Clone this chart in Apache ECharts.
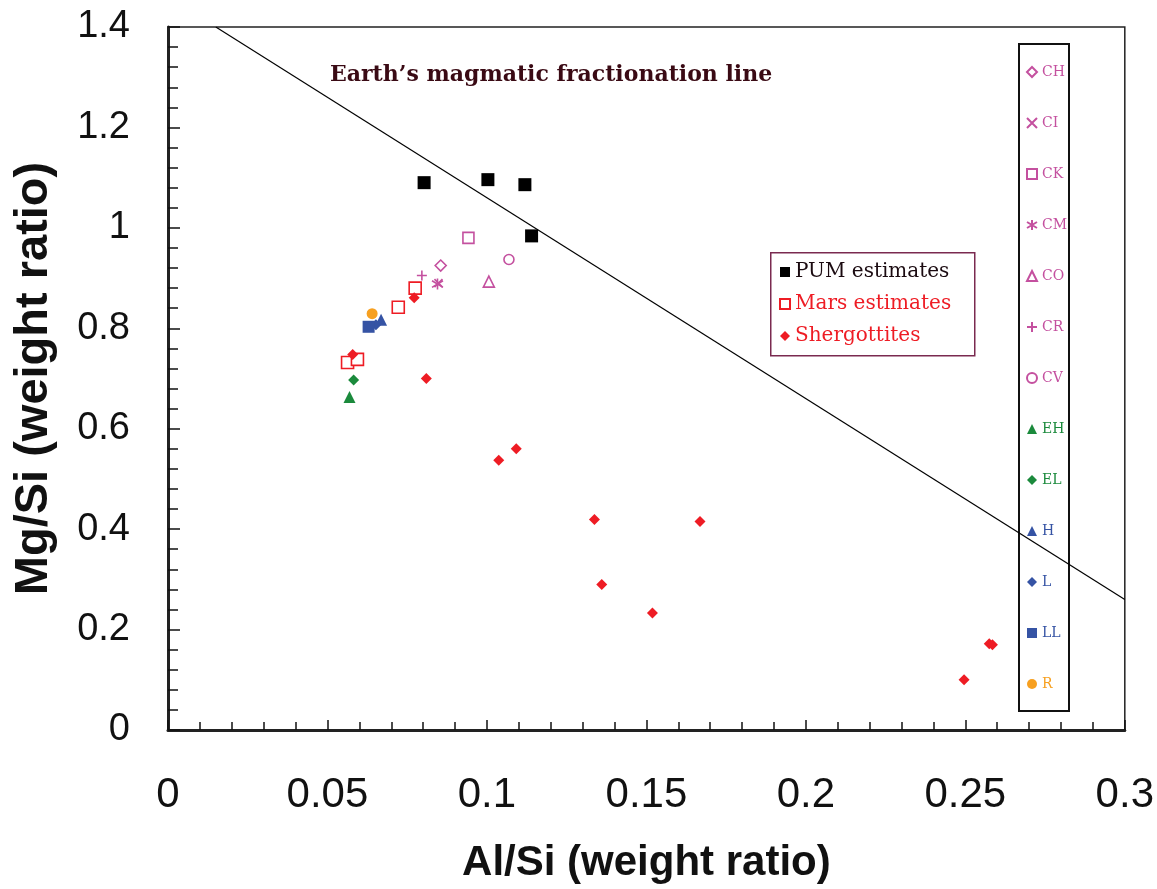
<!DOCTYPE html>
<html>
<head>
<meta charset="utf-8">
<script src="https://cdn.jsdelivr.net/npm/echarts@6/dist/echarts.min.js"></script>
<style>html,body{margin:0;padding:0;background:#fff;}#c{width:1157px;height:889px;}</style>
</head>
<body>
<div id="c"></div>
<script>
// ---- data (Al/Si, Mg/Si weight ratios) ----
var pum = [[0.0803, 1.090], [0.1003, 1.096], [0.1119, 1.086], [0.1140, 0.984]];
var mars = [[0.0563, 0.732], [0.0594, 0.738], [0.0722, 0.842], [0.0775, 0.880]];
var shergottites = [[0.0579, 0.748], [0.0772, 0.861], [0.0810, 0.700], [0.1037, 0.537],
  [0.1092, 0.560], [0.1337, 0.419], [0.1668, 0.415], [0.1360, 0.290], [0.1519, 0.233],
  [0.2575, 0.172], [0.2585, 0.170], [0.2496, 0.100]];
var CH = [[0.0855, 0.925]];
var CI = [[0.0848, 0.890]];
var CK = [[0.0942, 0.980]];
var CM = [[0.0845, 0.888]];
var CO = [[0.1006, 0.893]];
var CR = [[0.0796, 0.905]];
var CV = [[0.1069, 0.937]];
var EH = [[0.0569, 0.663]];
var EL = [[0.0582, 0.697]];
var H = [[0.0668, 0.817]];
var L = [[0.0652, 0.807]];
var LL = [[0.0629, 0.803]];
var R = [[0.0640, 0.829]];
var fractionationLine = [[0.015, 1.40], [0.300, 0.26]];
var xTickLabels = ['0', '0.05', '0.1', '0.15', '0.2', '0.25', '0.3'];
var yTickLabels = ['0', '0.2', '0.4', '0.6', '0.8', '1', '1.2', '1.4'];

var MAG = '#c4509f', RED = '#ee1c24', GRN = '#1b8a3c', BLU = '#3553a4', ORG = '#f7a020';
var P_X = 'path://M0,0L10,10M10,0L0,10';
var P_PLUS = 'path://M5,0L5,10M0,5L10,5';
var P_AST = 'path://M5,0L5,10M0,2L10,8M0,8L10,2';

function openStyle(c) { return { color: '#fff', borderColor: c, borderWidth: 1.6, opacity: 1 }; }
function lineStyle(c) { return { color: 'rgba(0,0,0,0)', borderColor: c, borderWidth: 1.6, opacity: 1 }; }
function fillStyle(c) { return { color: c, opacity: 1 }; }

var groups = [
  { name: 'CH', data: CH, symbol: 'diamond', size: 11, style: openStyle(MAG), color: MAG },
  { name: 'CI', data: CI, symbol: P_X, size: 8, style: lineStyle(MAG), color: MAG },
  { name: 'CK', data: CK, symbol: 'rect', size: 11, style: openStyle(MAG), color: MAG },
  { name: 'CM', data: CM, symbol: P_AST, size: 11, style: lineStyle(MAG), color: MAG },
  { name: 'CO', data: CO, symbol: 'triangle', size: 11, style: openStyle(MAG), color: MAG },
  { name: 'CR', data: CR, symbol: P_PLUS, size: 10, style: lineStyle(MAG), color: MAG },
  { name: 'CV', data: CV, symbol: 'circle', size: 10, style: openStyle(MAG), color: MAG },
  { name: 'EH', data: EH, symbol: 'triangle', size: 12, style: fillStyle(GRN), color: GRN },
  { name: 'EL', data: EL, symbol: 'diamond', size: 11, style: fillStyle(GRN), color: GRN },
  { name: 'H', data: H, symbol: 'triangle', size: 12, style: fillStyle(BLU), color: BLU },
  { name: 'L', data: L, symbol: 'diamond', size: 11, style: fillStyle(BLU), color: BLU },
  { name: 'LL', data: LL, symbol: 'rect', size: 12, style: fillStyle(BLU), color: BLU },
  { name: 'R', data: R, symbol: 'circle', size: 11, style: fillStyle(ORG), color: ORG }
];

var series = [
  { type: 'line', name: 'fractionation', data: fractionationLine, showSymbol: false, symbol: 'none',
    lineStyle: { color: '#000', width: 1.2 }, silent: true, z: 1 },
  { type: 'scatter', name: 'PUM estimates', data: pum, symbol: 'rect', symbolSize: 13, itemStyle: fillStyle('#000'), z: 3 },
  { type: 'scatter', name: 'Mars estimates', data: mars, symbol: 'rect', symbolSize: 12, itemStyle: openStyle(RED), z: 3 },
  { type: 'scatter', name: 'Shergottites', data: shergottites, symbol: 'diamond', symbolSize: 11, itemStyle: fillStyle(RED), z: 4 }
];
groups.forEach(function (g) {
  series.push({ type: 'scatter', name: g.name, data: g.data, symbol: g.symbol, symbolSize: g.size, itemStyle: g.style, z: 3 });
});

var chart = echarts.init(document.getElementById('c'), null, { renderer: 'canvas' });
chart.setOption({
  animation: false,
  backgroundColor: '#fff',
  grid: { left: 168, right: 30, top: 27, bottom: 159, show: true, borderColor: '#222', borderWidth: 1.5, containLabel: false },
  xAxis: {
    type: 'value', min: 0, max: 0.3, interval: 0.05,
    name: 'Al/Si (weight ratio)', nameLocation: 'middle', nameGap: 112,
    nameTextStyle: { fontFamily: 'Liberation Sans', fontWeight: 'bold', fontSize: 42, color: '#111' },
    axisLine: { lineStyle: { color: '#222', width: 3 } },
    axisTick: { inside: true, length: 10, lineStyle: { color: '#111', width: 1.5 } },
    minorTick: { show: true, splitNumber: 5, length: 8, lineStyle: { color: '#111', width: 1.5 } },
    splitLine: { show: false },
    axisLabel: { margin: 44, fontFamily: 'Liberation Sans', fontSize: 42, color: '#111',
      formatter: function (v) { return xTickLabels[Math.round(v / 0.05)]; } }
  },
  yAxis: {
    type: 'value', min: 0, max: 1.4, interval: 0.2,
    name: 'Mg/Si (weight ratio)', nameLocation: 'middle', nameGap: 110,
    nameTextStyle: { fontFamily: 'Liberation Sans', fontWeight: 'bold', fontSize: 47, color: '#111' },
    axisLine: { lineStyle: { color: '#222', width: 3 } },
    axisTick: { inside: true, length: 12, lineStyle: { color: '#111', width: 1.5 } },
    minorTick: { show: true, splitNumber: 5, length: 10, lineStyle: { color: '#111', width: 1.5 } },
    splitLine: { show: false },
    axisLabel: { margin: 38, fontFamily: 'Liberation Sans', fontSize: 38, color: '#111',
      formatter: function (v) { return yTickLabels[Math.round(v / 0.2)]; } }
  },
  legend: [
    {
      orient: 'vertical', left: 779, top: 262, itemWidth: 10, itemHeight: 10, itemGap: 12,
      selectedMode: false, padding: 0, itemTextGap: 6,
      data: [
        { name: 'PUM estimates', textStyle: { color: '#1a0a10' } },
        { name: 'Mars estimates', textStyle: { color: RED } },
        { name: 'Shergottites', textStyle: { color: RED } }
      ],
      textStyle: { fontFamily: 'DejaVu Serif', fontSize: 20, lineHeight: 20 }
    },
    {
      orient: 'vertical', left: 1026, top: 65, itemWidth: 10, itemHeight: 10, itemGap: 37,
      selectedMode: false, padding: 0, itemTextGap: 3,
      data: groups.map(function (g) { return { name: g.name, textStyle: { color: g.color } }; }),
      textStyle: { fontFamily: 'DejaVu Serif', fontSize: 14, lineHeight: 14 }
    }
  ],
  graphic: [
    { type: 'rect', left: 770, top: 252, shape: { width: 204, height: 103 }, z: 0,
      style: { fill: '#fff', stroke: '#7a2a50', lineWidth: 1.5 } },
    { type: 'rect', left: 1018, top: 43, shape: { width: 50, height: 667 }, z: 0,
      style: { fill: 'rgba(255,255,255,0)', stroke: '#111', lineWidth: 2 } },
    { type: 'text', left: 330, top: 64, z: 10,
      style: { text: 'Earth\u2019s magmatic fractionation line', fill: '#3a0a14',
        font: 'bold 22px "DejaVu Serif"' } }
  ],
  series: series
});
</script>
</body>
</html>
